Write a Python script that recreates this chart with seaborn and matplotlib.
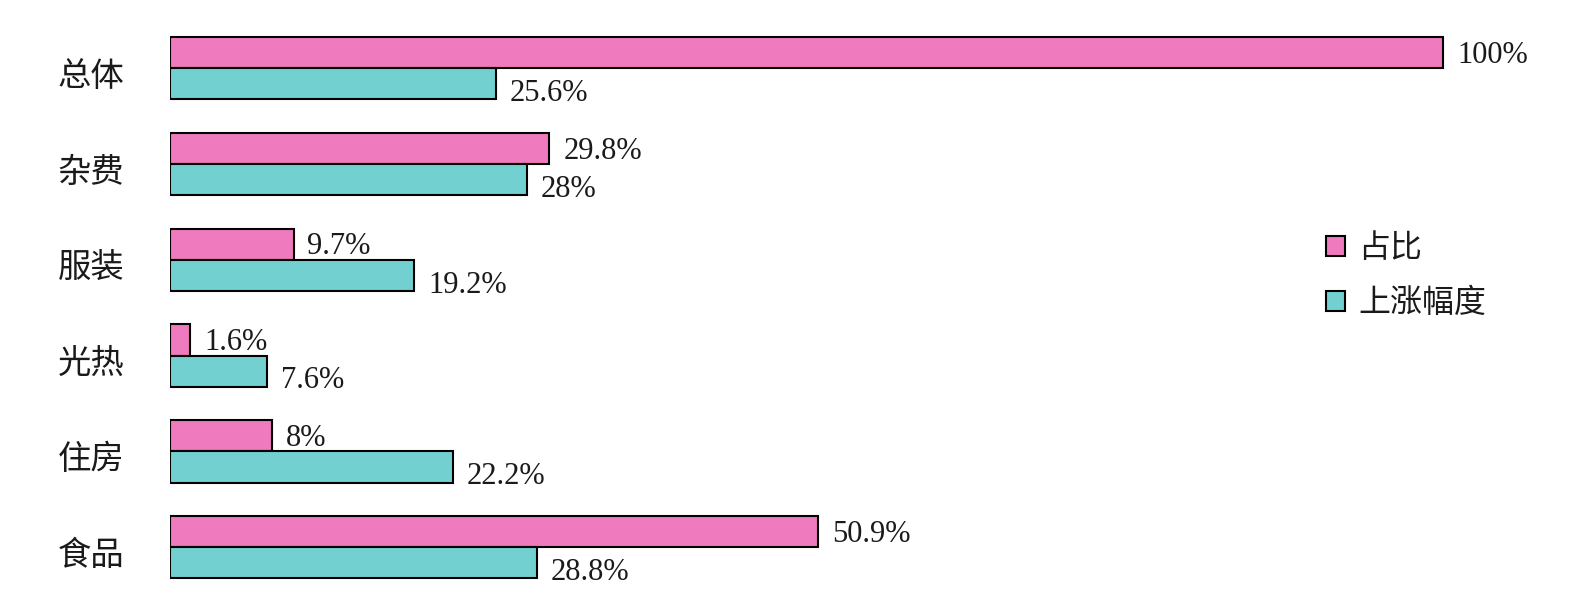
import matplotlib
matplotlib.use('Agg')
import matplotlib.pyplot as plt
import matplotlib.transforms as mtransforms
import seaborn as sns
import pandas as pd
from matplotlib.patches import Patch

categories = ['总体', '杂费', '服装', '光热', '住房', '食品']
share = [100, 29.8, 9.7, 1.6, 8, 50.9]
rise = [25.6, 28, 19.2, 7.6, 22.2, 28.8]
share_labels = ['100%', '29.8%', '9.7%', '1.6%', '8%', '50.9%']
rise_labels = ['25.6%', '28%', '19.2%', '7.6%', '22.2%', '28.8%']
series = ['占比', '上涨幅度']
colors = ['#F07ABE', '#72D0D0']

df = pd.DataFrame({
    'cat': categories * 2,
    'val': share + rise,
    'series': [series[0]] * len(categories) + [series[1]] * len(categories),
})

sns.set_theme(style='white')
plt.rcParams['font.family'] = ['Liberation Serif', 'Noto Sans CJK SC']

W, H = 1586, 598
fig = plt.figure(figsize=(W / 100, H / 100), dpi=100)
ax = fig.add_axes([170 / W, 0, 1 - 170 / W, 1])

sns.barplot(data=df, y='cat', x='val', hue='series', order=categories,
            hue_order=series, palette=colors, width=0.65, saturation=1,
            edgecolor='black', linewidth=1.5, ax=ax, legend=False,
            orient='h', errorbar=None)

ax.set_xlim(0, 111.2)
ax.set_ylim(5.53, -0.71)

for cont, labels, dy in zip(ax.containers, [share_labels, rise_labels], [-2, -7]):
    for patch, lab in zip(cont.patches, labels):
        x = patch.get_x() + patch.get_width()
        y = patch.get_y() + patch.get_height() / 2
        ax.annotate(lab, (x, y), xytext=(10, dy), textcoords='offset points',
                    va='center', ha='left', fontsize=22,
                    family=['Liberation Serif'], color='#1a1a1a')

for s in ax.spines.values():
    s.set_visible(False)
ax.set_xticks([])
ax.set_xlabel('')
ax.set_ylabel('')
ax.tick_params(axis='y', length=0, pad=33)
offset = mtransforms.ScaledTranslation(0, -3 / 72, fig.dpi_scale_trans)
for t in ax.get_yticklabels():
    t.set_fontfamily(['Noto Sans CJK SC'])
    t.set_fontsize(24)
    t.set_color('#1a1a1a')
    t.set_transform(t.get_transform() + offset)

handles = [Patch(facecolor=c, edgecolor='black', linewidth=1.5) for c in colors]
fig.legend(handles, series, loc='upper left', bbox_to_anchor=(1326 / W, 1 - 232 / H),
           frameon=False, handlelength=0.6, handleheight=0.6,
           handletextpad=0.4, labelspacing=0.72, borderpad=0, borderaxespad=0,
           prop={'family': ['Noto Sans CJK SC'], 'size': 23}, labelcolor='#1a1a1a')

fig.savefig('out.png', dpi=100)
